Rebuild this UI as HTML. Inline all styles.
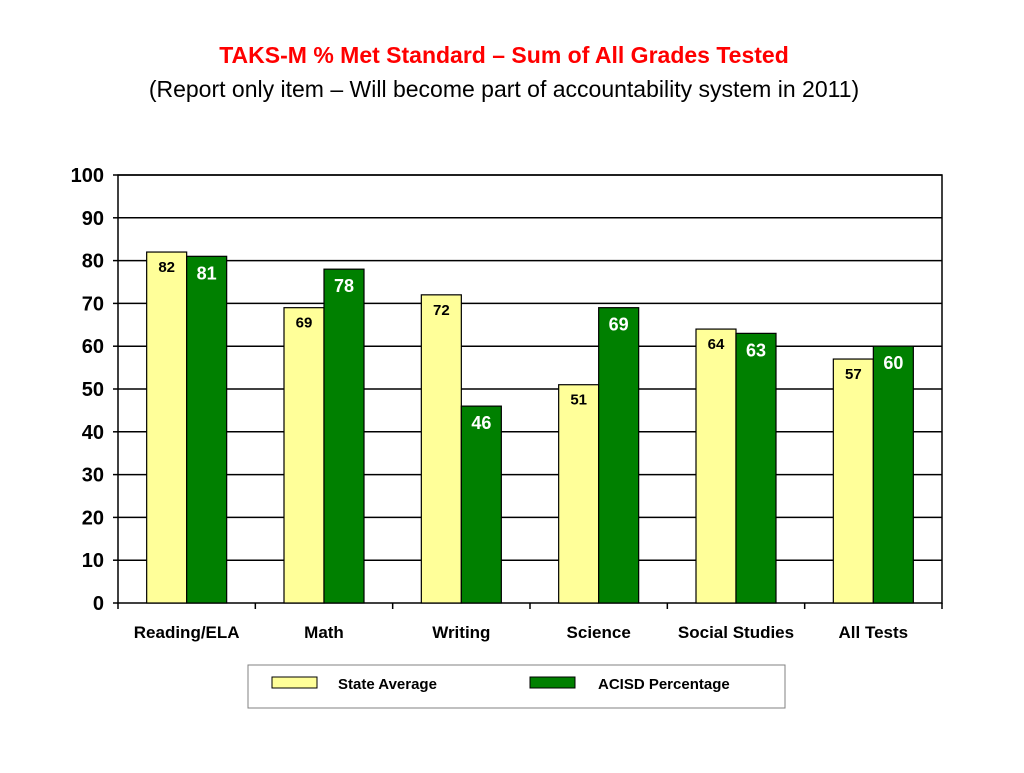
<!DOCTYPE html>
<html><head><meta charset="utf-8"><style>
body{margin:0;background:#fff;font-family:"Liberation Sans",Arial,sans-serif}
</style></head><body>
<svg width="1024" height="768" xmlns="http://www.w3.org/2000/svg">
<text x="504" y="63" text-anchor="middle" font-size="23" font-weight="bold" fill="#ff0000">TAKS-M % Met Standard – Sum of All Grades Tested</text>
<text x="504" y="97" text-anchor="middle" font-size="23" fill="#000">(Report only item – Will become part of accountability system in 2011)</text>
<g id="plot"></g>
<rect x="248" y="665" width="537" height="43" fill="#fff" stroke="#808080"/>
<rect x="272" y="677" width="45" height="11" fill="#ffff99" stroke="#000"/>
<text x="338" y="689" font-size="15" font-weight="bold">State Average</text>
<rect x="530" y="677" width="45" height="11" fill="#008000" stroke="#000"/>
<text x="598" y="689" font-size="15" font-weight="bold">ACISD Percentage</text>
</svg>
<script>
const categories=["Reading/ELA","Math","Writing","Science","Social Studies","All Tests"];
const stateValues=[82,69,72,51,64,57];
const acisdValues=[81,78,46,69,63,60];
const yTicks=[0,10,20,30,40,50,60,70,80,90,100];
const NS="http://www.w3.org/2000/svg";
const g=document.getElementById("plot");
const L=118,R=942,T=175,B=603;
const y=v=>B-(v/100)*(B-T);
const gw=(R-L)/categories.length;
const x=i=>L+gw*i+gw/2;
function mk(tag,a,txt){const e=document.createElementNS(NS,tag);for(const k in a)e.setAttribute(k,a[k]);if(txt!==undefined)e.textContent=txt;g.appendChild(e);return e;}
let e=mk("rect",{x:L,y:T,width:R-L,height:B-T,fill:"#fff",stroke:"#000","stroke-width":1.5});

yTicks.forEach(t=>{
 if(t>0){e=mk("line",{x1:L,x2:R,y1:y(t),y2:y(t),stroke:"#000","stroke-width":1.5});}
 e=mk("line",{x1:L-5,x2:L,y1:y(t),y2:y(t),stroke:"#000","stroke-width":1.5});
 e=mk("text",{x:L-14,y:y(t)+7,"text-anchor":"end","font-size":20,"font-weight":"bold"},t);
});
for(let i=0;i<=categories.length;i++){e=mk("line",{x1:L+gw*i,x2:L+gw*i,y1:B,y2:B+6,stroke:"#000","stroke-width":1.5});}
const bw=40;
categories.forEach((c,i)=>{
 const cx=x(i);
 e=mk("rect",{x:cx-bw,y:y(stateValues[i]),width:bw,height:B-y(stateValues[i]),fill:"#ffff99",stroke:"#000","stroke-width":1.2});
 
 e=mk("rect",{x:cx,y:y(acisdValues[i]),width:bw,height:B-y(acisdValues[i]),fill:"#008000",stroke:"#000","stroke-width":1.2});
 
 e=mk("text",{x:cx-bw/2,y:y(stateValues[i])+20,"text-anchor":"middle","font-size":15,"font-weight":"bold"},stateValues[i]);
 
 e=mk("text",{x:cx+bw/2,y:y(acisdValues[i])+23,"text-anchor":"middle","font-size":18,"font-weight":"bold",fill:"#fff"},acisdValues[i]);
 
 e=mk("text",{x:cx,y:638,"text-anchor":"middle","font-size":17,"font-weight":"bold"},c);
 
});
</script>
</body></html>
